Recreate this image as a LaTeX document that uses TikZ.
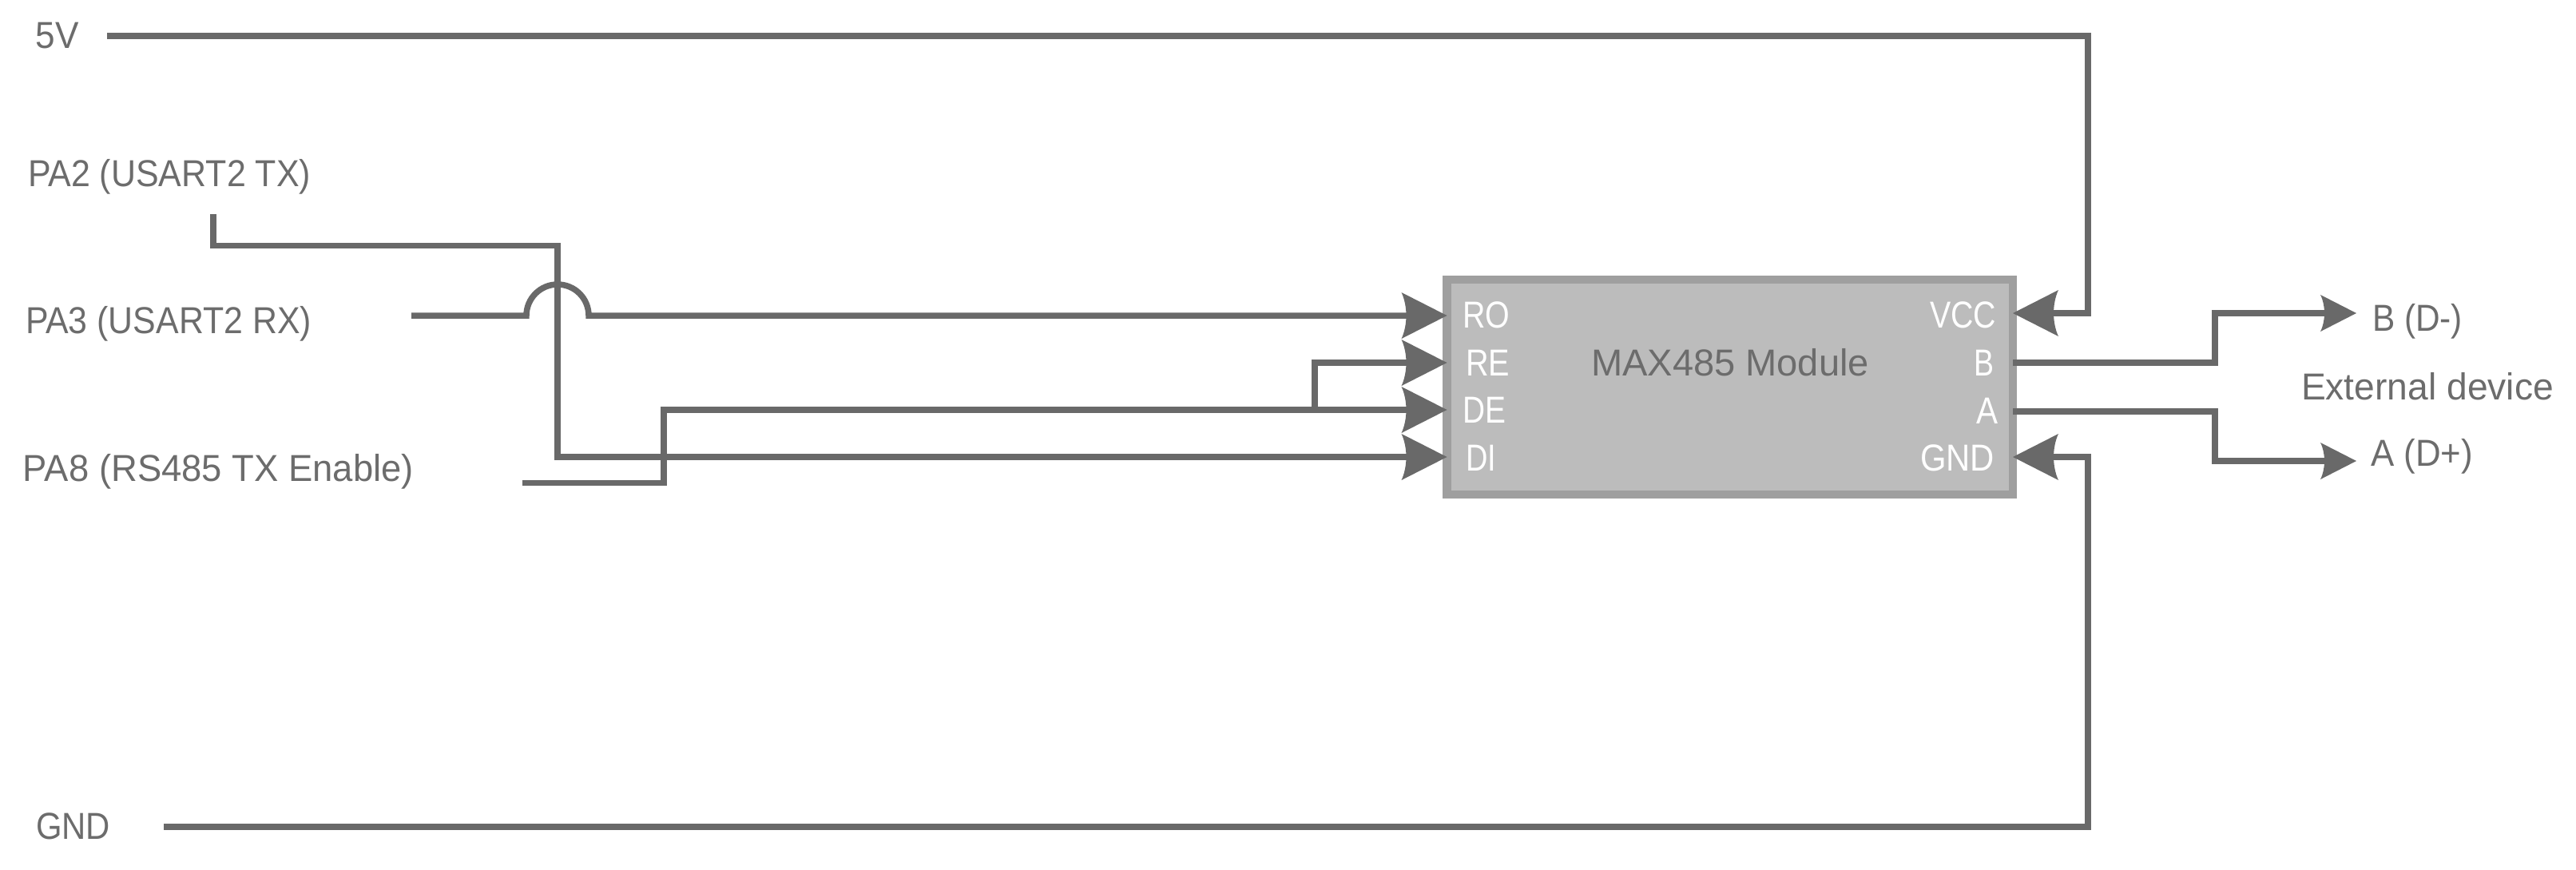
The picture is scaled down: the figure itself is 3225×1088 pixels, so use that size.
\documentclass[tikz,border=0pt]{standalone}
\usepackage{fontspec}
\usepackage{graphicx}
\setmainfont{Liberation Sans}
\usetikzlibrary{arrows.meta,calc}
\definecolor{wire}{HTML}{696969}
\definecolor{txt}{HTML}{6C6C6C}
\definecolor{boxfill}{HTML}{BCBCBC}
\definecolor{boxline}{HTML}{9F9F9F}
\newcommand{\fitw}[2]{\resizebox{#1pt}{\height}{#2}}
\pgfdeclarearrow{
  name=CurvedBack,
  setup code={
    \pgfarrowssettipend{\pgfarrowlength}
    \pgfarrowssetbackend{0pt}
    \pgfarrowssetlineend{0.4\pgfarrowlength}
    \pgfarrowssetvisualbackend{\pgfarrowinset}
    \pgfarrowssavethe\pgfarrowlength
    \pgfarrowssavethe\pgfarrowwidth
    \pgfarrowssavethe\pgfarrowinset
  },
  drawing code={
    \pgfpathmoveto{\pgfqpoint{\pgfarrowlength}{0pt}}
    \pgfpathlineto{\pgfqpoint{0pt}{0.5\pgfarrowwidth}}
    \pgfpathcurveto{\pgfqpoint{0.7\pgfarrowinset}{0.35\pgfarrowwidth}}{\pgfqpoint{\pgfarrowinset}{0.15\pgfarrowwidth}}{\pgfqpoint{\pgfarrowinset}{0pt}}
    \pgfpathcurveto{\pgfqpoint{\pgfarrowinset}{-0.15\pgfarrowwidth}}{\pgfqpoint{0.7\pgfarrowinset}{-0.35\pgfarrowwidth}}{\pgfqpoint{0pt}{-0.5\pgfarrowwidth}}
    \pgfpathclose
    \pgfusepathqfill
  },
  parameters={\the\pgfarrowlength,\the\pgfarrowwidth,\the\pgfarrowinset}
}
\tikzset{
  lbl/.style={anchor=base west,inner sep=0pt,outer sep=0pt,text=txt,font=\fontsize{47}{56}\selectfont},
  pinlbl/.style={lbl,text=white},
  wirestyle/.style={draw=wire,line width=7.5pt,line cap=butt,line join=miter,miter limit=10},
  bigtip/.style={wirestyle,-{CurvedBack[length=57pt,width=58pt,inset=6pt]}},
  smalltip/.style={wirestyle,-{CurvedBack[length=45pt,width=46pt,inset=5pt]}},
  modulebox/.style={draw=boxline,fill=boxfill,line width=10.5pt,inner sep=0pt,outer sep=0pt,minimum width=708.5pt,minimum height=269pt}
}
\begin{document}
\begin{tikzpicture}[x=1pt,y=-1pt]
\useasboundingbox (0,0) rectangle (3225,1088);
\node[modulebox] (box) at (2165.75,484.5) {};
% labels
\node[lbl] (l5v) at (45,60) {\fitw{54}{5V}};
\node[lbl] (lpa2) at (35,233.5) {\fitw{354}{PA2 (USART2 TX)}};
\node[lbl] (lpa3) at (32,417) {\fitw{358}{PA3 (USART2 RX)}};
\node[lbl] (lpa8) at (29,602) {\fitw{489}{PA8 (RS485 TX Enable)}};
\node[lbl] (lgnd) at (45,1050) {\fitw{93}{GND}};
\node[lbl] (lmod) at (1992,470) {\fitw{348}{MAX485 Module}};
\node[pinlbl] (ro) at (1831,410) {\fitw{59}{RO}};
\node[pinlbl] (re) at (1835,470) {\fitw{55}{RE}};
\node[pinlbl] (de) at (1831,529) {\fitw{54}{DE}};
\node[pinlbl] (di) at (1835,589) {\fitw{38}{DI}};
\node[pinlbl] (vcc) at (2416,410) {\fitw{83}{VCC}};
\node[pinlbl] (bpin) at (2471,470) {\fitw{25}{B}};
\node[pinlbl] (apin) at (2474,530) {\fitw{27}{A}};
\node[pinlbl] (gndpin) at (2404,589) {\fitw{93}{GND}};
\node[lbl] (lb) at (2970,414) {\fitw{113}{B (D-)}};
\node[lbl] (lext) at (2881,500) {\fitw{316}{External device}};
\node[lbl] (la) at (2968,583) {\fitw{128}{A (D+)}};
% free ends
\coordinate (s5v) at (134,45);
\coordinate (spa2) at (267,268);
\coordinate (spa3) at (515,395);
\coordinate (spa8) at (654,604.5);
\coordinate (sgnd) at (205,1035);
\coordinate (ebminus) at (2950,392);
\coordinate (eaplus) at (2950,577);
\coordinate (yro) at (0,395);
\coordinate (yre) at (0,454);
\coordinate (yde) at (0,513);
\coordinate (ydi) at (0,572);
\coordinate (yvcc) at (0,392);
\coordinate (yb) at (0,454);
\coordinate (ya) at (0,515);
% wires
\draw[bigtip] (s5v) -| (2614,392) -- (box.east |- yvcc);
\draw[bigtip] (sgnd) -| (2614,572) -- (box.east |- ydi);
\draw[bigtip] (spa2) |- (698,307.5) |- (box.west |- ydi);
\draw[bigtip] (spa3) -- (659,395) arc[start angle=180,end angle=360,radius=39] -- (box.west |- yro);
\draw[bigtip] (spa8) -| (831,513) -- (box.west |- yde);
\draw[bigtip] (1646,513) |- (box.west |- yre);
\draw[smalltip] (box.east |- yb) -| (2773,392) -- (ebminus);
\draw[smalltip] (box.east |- ya) -| (2773,577) -- (eaplus);
\end{tikzpicture}
\end{document}
